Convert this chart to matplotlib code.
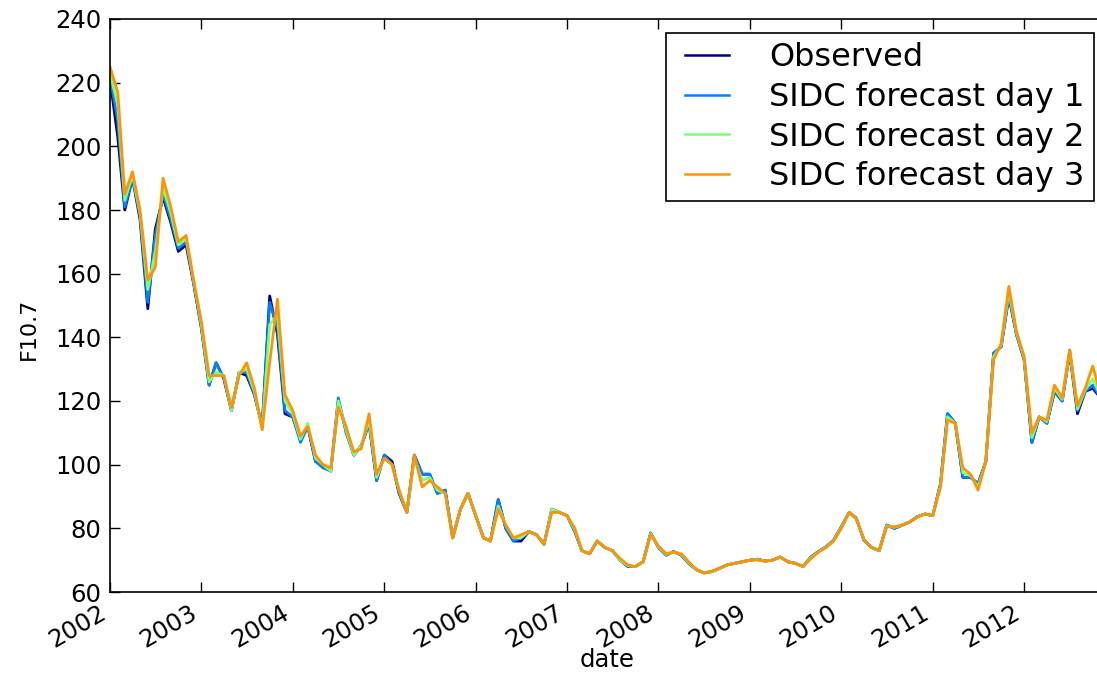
import numpy as np
import pandas as pd
import matplotlib
matplotlib.use("Agg")
import matplotlib.pyplot as plt
import matplotlib.dates as mdates
from matplotlib import cm

# Monthly mean F10.7 radio flux, Jan 2002 - Dec 2012
months = pd.date_range("2002-01-01", periods=132, freq="MS")

observed = [
    221, 203, 180, 190, 177, 149, 174, 184, 176, 167, 169, 157,
    143, 125, 132, 127, 117, 129, 128, 122, 112, 153, 141, 116,
    115, 108, 112, 101, 100, 98, 120, 111, 103, 106, 113, 95,
    103, 101, 91, 85, 103, 97, 97, 91, 92, 77, 86, 91,
    84, 77, 76, 89, 80, 76, 76, 79, 78, 75, 86, 85,
    84, 79, 73, 72, 76, 74, 73, 70, 68, 68, 69.5, 78.5,
    74, 71.6, 72.7, 71.6, 69, 67, 66, 66.4, 67.4, 68.5, 69, 69.5,
    70, 70.3, 69.7, 70, 71, 69.5, 69, 68, 71, 72.7, 74.2, 76.3,
    80.5, 85, 83.2, 76.3, 74, 73, 81, 80, 81, 82, 83.7, 84.5,
    84, 94, 116, 113, 96, 96, 94, 101, 135, 137, 153, 141,
    133, 107, 115, 113, 123, 120, 135, 116, 123, 124, 121, 108,
]

sidc_day1 = [
    222, 208, 181, 190, 178, 151, 172, 185, 177, 168, 170, 157,
    143, 125, 132, 127, 117, 129, 129, 122, 112, 151, 143, 117,
    115, 107, 112, 101, 99, 98, 121, 110, 103, 106, 113, 95,
    103, 100, 91, 85, 103, 97, 97, 91, 92, 77, 86, 91,
    84, 77, 76, 89, 80, 76, 77, 79, 78, 75, 86, 85,
    84, 79, 73, 72, 76, 74, 73, 70, 68, 68, 69.5, 78.5,
    74, 71.6, 72.7, 71.6, 69, 67, 66, 66.4, 67.4, 68.5, 69, 69.5,
    70, 70.3, 69.7, 70, 71, 69.5, 69, 68, 71, 72.7, 74.2, 76.3,
    80.5, 85, 83.2, 76.3, 74, 73, 81, 80, 81, 82, 83.7, 84.5,
    84, 94, 116, 113, 96, 96, 94, 101, 135, 137, 153, 141,
    133, 107, 115, 113, 123, 120, 136, 117, 123, 125, 121, 108,
]

sidc_day2 = [
    223, 213, 183, 191, 179, 155, 167, 187, 179, 169, 171, 158,
    144, 126, 129, 128, 117, 129, 130, 123, 111, 144, 147, 120,
    116, 108, 113, 102, 100, 98, 120, 111, 103, 106, 114, 96,
    102, 100, 92, 85, 102, 95, 96, 92, 91, 77, 86, 91,
    84, 77, 76, 87, 81, 77, 77, 79, 78, 75, 86, 85,
    84, 79.5, 73, 72, 76, 74, 73, 70, 68.3, 68, 69.5, 78.3,
    74.2, 71.8, 72.6, 71.8, 69.2, 67, 66, 66.4, 67.4, 68.5, 69, 69.5,
    70, 70.2, 69.7, 70, 71, 69.5, 69, 68, 70.8, 72.6, 74.1, 76.2,
    80.3, 85, 83.1, 76.4, 74, 73, 80.8, 80.3, 81, 82, 83.6, 84.5,
    84, 93.5, 115, 113, 97.5, 96.5, 93, 101, 134, 137.5, 154.5, 141.5,
    133.5, 108.5, 115, 113.5, 124, 120.5, 135.5, 117.5, 123.5, 127, 121.5, 109,
]

sidc_day3 = [
    225, 217, 185, 192, 180, 158, 162, 190, 181, 170, 172, 158,
    145, 128, 128, 128, 118, 128, 132, 124, 111, 132, 152, 122,
    117, 109, 112, 103, 100, 99, 118, 112, 104, 105, 116, 97,
    102, 100, 92, 85, 103, 93, 95, 93, 91, 77, 86, 91,
    84, 77, 76, 86, 81, 77, 78, 79, 78, 75, 85, 85,
    84, 80, 73, 72, 76, 74, 73, 70.5, 68.5, 68, 69.5, 78,
    74.5, 72, 72.5, 72, 69.5, 67, 66, 66.5, 67.5, 68.5, 69, 69.5,
    70, 70, 69.7, 70, 71, 69.5, 69, 68, 70.5, 72.5, 74, 76,
    80, 85, 83, 76.5, 74, 73, 80.5, 80.5, 81, 82, 83.5, 84.5,
    84, 93, 114, 113, 99, 97, 92, 101, 133, 138, 156, 142,
    134, 110, 115, 114, 125, 121, 136, 118.5, 124, 131, 122, 110,
]

series_labels = ["Observed", "SIDC forecast day 1", "SIDC forecast day 2", "SIDC forecast day 3"]
y_ticks = [60, 80, 100, 120, 140, 160, 180, 200, 220, 240]

colors = cm.jet([0.0, 0.25, 0.5, 0.75])

W, H = 1097, 673
fig = plt.figure(figsize=(W / 100, H / 100), dpi=100, facecolor="white")
ax = fig.add_axes([110 / W, (H - 592) / H, (1108 - 110) / W, (592 - 19) / H])

for vals, lab, c in zip([observed, sidc_day1, sidc_day2, sidc_day3], series_labels, colors):
    ax.plot(months, vals, color=c, lw=2.0, label=lab)

ax.set_xlim(months[0], months[-1])
ax.set_ylim(60, 240)
ax.set_yticks(y_ticks)
ax.xaxis.set_major_locator(mdates.YearLocator())
ax.xaxis.set_major_formatter(mdates.DateFormatter("%Y"))

ax.tick_params(direction="in", length=7, width=1, top=True, right=True, labelsize=17.5, pad=6)
for lbl in ax.get_xticklabels():
    lbl.set_rotation(30)
    lbl.set_ha("right")
for sp in ax.spines.values():
    sp.set_linewidth(1.2)

ax.set_xlabel("date", fontsize=17.5)
ax.set_ylabel("F10.7", fontsize=16)
ax.xaxis.set_label_coords(0.498, -0.098)
ax.yaxis.set_label_coords(-0.071, 0.459)

leg = ax.legend(loc="upper right", fontsize=23, fancybox=False, framealpha=1,
                edgecolor="black", numpoints=2, handlelength=2.0, handletextpad=0.95,
                labelspacing=0.27, borderpad=0.28, borderaxespad=0.45)
leg.get_frame().set_linewidth(1.2)
for h in leg.get_lines():
    h.set_linewidth(1.8)

fig.savefig("out.png", dpi=100, facecolor="white")
